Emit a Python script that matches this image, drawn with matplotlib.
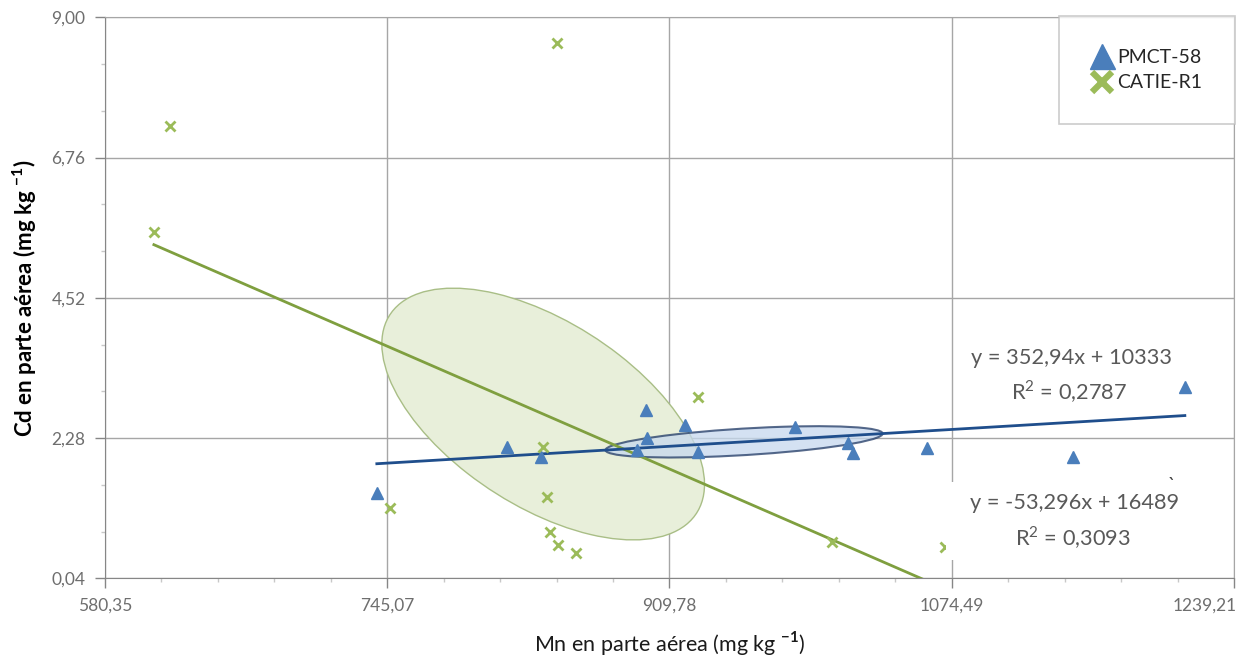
import numpy as np
import matplotlib
matplotlib.use('Agg')
import matplotlib.pyplot as plt
import matplotlib.transforms as transforms
from matplotlib.patches import Ellipse, Rectangle
from matplotlib.lines import Line2D

# Mn (x) and Cd (y) in shoot tissue, two clones
pmct_mn = [739.0, 814.9, 835.0, 896.0, 896.6, 890.7, 918.7, 926.3, 982.9,
           1013.8, 1016.8, 1059.9, 1145.1, 1210.5]
pmct_cd = [1.40, 2.14, 1.98, 2.73, 2.28, 2.09, 2.49, 2.06, 2.46,
           2.20, 2.04, 2.12, 1.98, 3.10]
catie_mn = [618.3, 608.9, 844.0, 746.6, 835.9, 838.2, 840.0, 844.6, 855.1,
            926.3, 1004.5, 1070.4]
catie_cd = [7.27, 5.57, 8.59, 1.16, 2.14, 1.34, 0.78, 0.57, 0.44,
            2.94, 0.62, 0.54]

xticks = [580.35, 745.07, 909.78, 1074.49, 1239.21]
yticks = [0.04, 2.28, 4.52, 6.76, 9.00]
eq_pmct = ['y = 352,94x + 10333', 'R$^2$ = 0,2787']
eq_catie = ['y = -53,296x + 16489', 'R$^2$ = 0,3093']

plt.rcParams['font.family'] = ['Lato', 'DejaVu Sans']
plt.rcParams['mathtext.fontset'] = 'custom'
plt.rcParams['mathtext.rm'] = 'Lato'
plt.rcParams['mathtext.bf'] = 'Lato:bold'

BLUE = '#4A7EBB'
BLUE_LINE = '#1F4E8C'
GREEN = '#9BBB59'
GREEN_LINE = '#7F9F3F'
GRID = '#A6A6A6'


def conf_ellipse(ax, x, y, n_std, **kw):
    x = np.asarray(x); y = np.asarray(y)
    cov = np.cov(x, y)
    r = cov[0, 1] / np.sqrt(cov[0, 0] * cov[1, 1])
    ell = Ellipse((0, 0), width=2 * np.sqrt(1 + r), height=2 * np.sqrt(1 - r), **kw)
    tr = transforms.Affine2D().rotate_deg(45) \
        .scale(np.sqrt(cov[0, 0]) * n_std, np.sqrt(cov[1, 1]) * n_std) \
        .translate(x.mean(), y.mean())
    ell.set_transform(tr + ax.transData)
    return ax.add_patch(ell)


def trend(ax, x, y, **kw):
    m, b = np.polyfit(x, y, 1)
    xs = np.array([min(x), max(x)])
    ax.plot(xs, m * xs + b, **kw)


fig = plt.figure(figsize=(12.45, 6.65), dpi=100)
ax = fig.add_axes([0.0843, 0.1304, 0.9069, 0.8436])

conf_ellipse(ax, catie_mn, catie_cd, 0.70, facecolor='#E8EFDA', edgecolor='#A9BE86',
             lw=1.0, zorder=1)
conf_ellipse(ax, pmct_mn, pmct_cd, 0.63, facecolor='#C6D8EE', edgecolor='#1F3864',
             lw=1.5, alpha=0.75, zorder=2)

trend(ax, catie_mn, catie_cd, color=GREEN_LINE, lw=2.0, zorder=3)
trend(ax, pmct_mn, pmct_cd, color=BLUE_LINE, lw=2.0, zorder=3)

ax.plot(pmct_mn, pmct_cd, ls='none', marker='^', ms=8, color=BLUE, zorder=4)
ax.plot(catie_mn, catie_cd, ls='none', marker='x', ms=7, mew=2, color=GREEN, zorder=4)

ax.set_xlim(xticks[0], xticks[-1])
ax.set_ylim(yticks[0], yticks[-1])
ax.set_xticks(xticks)
ax.set_xticklabels([f'{v:.2f}'.replace('.', ',') for v in xticks])
ax.set_yticks(yticks)
ax.set_yticklabels([f'{v:.2f}'.replace('.', ',') for v in yticks])
ax.set_xticks(np.linspace(xticks[0], xticks[-1], 21), minor=True)
ax.set_yticks(np.linspace(yticks[0], yticks[-1], 13), minor=True)
ax.tick_params(which='major', length=7, width=1, color='#868686', labelcolor='#6E6E6E',
               labelsize=12.5, pad=7)
ax.tick_params(which='minor', length=3, width=1, color='#C8C8C8')
ax.grid(True, which='major', color=GRID, lw=1)
ax.set_axisbelow(True)
for s in ax.spines.values():
    s.set_color(GRID)
ax.spines['left'].set_color('#868686')
ax.spines['bottom'].set_color('#868686')

# last x label sits flush with the right edge
last = ax.get_xticklabels()[-1]
last.set_horizontalalignment('right')
last.set_transform(last.get_transform() +
                   transforms.ScaledTranslation(2 / 72, 0, fig.dpi_scale_trans))

ax.set_xlabel(r'Mn en parte aérea (mg kg $^{\mathbf{-1}}$)', fontsize=15.5, color='#1A1A1A')
ax.xaxis.set_label_coords(0.5, -0.092)
ax.set_ylabel(r'Cd en parte aérea (mg kg $^{\mathbf{-1}}$)', fontsize=16, fontweight='bold',
              color='black')
ax.yaxis.set_label_coords(-0.058, 0.50)

# white box behind the CATIE-R1 equation
ax.add_patch(Rectangle((0.7445, 0.0326), 0.2545, 0.1391, transform=ax.transAxes,
                       facecolor='white', edgecolor='none', zorder=5))

tk = dict(transform=ax.transAxes, ha='center', va='center', fontsize=15.7,
          color='#595959', zorder=6)
ax.text(0.8556, 0.3927, eq_pmct[0], **tk)
ax.text(0.8540, 0.3320, eq_pmct[1], **tk)
ax.text(0.8590, 0.1340, eq_catie[0], **tk)
ax.text(0.8570, 0.0718, eq_catie[1], **tk)
ax.text(0.945, 0.166, '`', transform=ax.transAxes, ha='center', va='center',
        fontsize=14, color='#404040', zorder=6)

handles = [Line2D([], [], ls='none', marker='^', ms=18, color=BLUE),
           Line2D([], [], ls='none', marker='x', ms=15, mew=4.5, color=GREEN)]
leg = ax.legend(handles, ['PMCT-58', 'CATIE-R1'], loc='upper right',
                bbox_to_anchor=(1.001, 1.003), fontsize=14, frameon=True,
                fancybox=False, borderpad=1.7, handlelength=1.0, handletextpad=0.3,
                labelspacing=0.45, borderaxespad=0)
leg.get_frame().set_edgecolor('#BFBFBF')
leg.get_frame().set_linewidth(1.2)
for t in leg.get_texts():
    t.set_color('#262626')
leg.set_zorder(7)

fig.savefig('out.png', dpi=100, facecolor='white')
